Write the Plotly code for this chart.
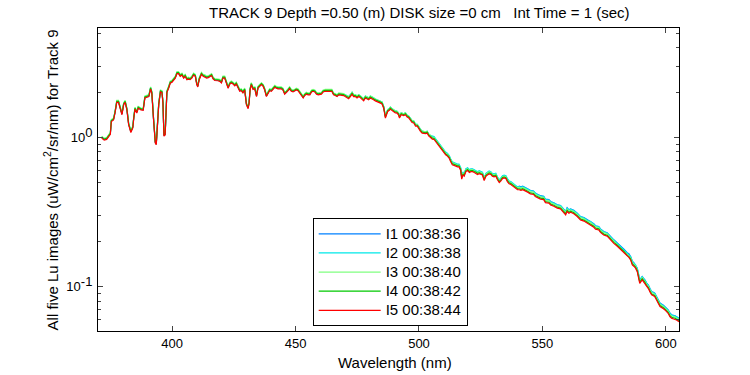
import plotly.graph_objects as go

wavelength = [
371.5, 372.5, 373.5, 374.5, 375.0, 375.4, 376.3, 376.9, 377.6, 378.3, 379.0, 379.7, 380.4, 381.0, 381.7, 382.4,
383.3, 384.1, 384.5, 385.0, 385.7, 386.3, 387.4, 388.3, 389.0, 390.0, 390.6, 391.3, 391.8, 392.5, 393.2, 393.6,
394.0, 394.6, 395.3, 395.9, 396.3, 396.7, 397.2, 397.5, 397.9, 398.6, 399.3, 399.9, 400.6, 401.3, 402.0, 402.6,
403.3, 404.0, 404.7, 405.3, 406.0, 406.6, 407.3, 408.0, 408.7, 409.4, 410.0, 410.4, 411.0, 411.9, 412.6, 413.3,
414.0, 414.7, 416.0, 416.6, 417.3, 418.6, 419.3, 420.0, 420.6, 421.3, 422.0, 422.7, 423.4, 424.0, 424.7, 425.4,
426.0, 426.7, 427.4, 428.0, 428.7, 429.4, 430.1, 430.8, 431.2, 431.6, 432.1, 432.8, 433.5, 434.2, 434.8, 435.5,
436.2, 436.9, 437.5, 438.2, 438.9, 439.5, 440.2, 440.9, 441.6, 442.2, 442.9, 444.2, 444.9, 445.6, 446.3, 447.0,
447.6, 448.3, 449.0, 449.7, 450.3, 451.0, 451.7, 452.4, 453.1, 453.7, 454.4, 455.1, 455.8, 456.5, 457.1, 457.8,
458.5, 459.2, 459.9, 460.5, 461.2, 462.0, 464.7, 465.4, 466.1, 466.8, 467.5, 468.1, 468.8, 469.5,
470.1, 470.8, 471.5, 472.2, 472.9, 473.5, 474.2, 474.9, 475.6, 476.2, 476.9, 477.6, 478.3, 478.9, 479.6, 480.3,
481.0, 481.6, 482.3, 483.0, 483.7, 484.4, 485.0, 485.7, 486.4, 486.8, 487.3, 488.0, 488.4, 489.0, 489.7, 490.4,
491.0, 491.7, 492.1, 492.8, 493.8, 494.5, 495.2, 495.9, 496.6, 497.2, 497.9, 498.6, 499.3, 499.9, 500.6, 501.3,
502.0, 502.7, 503.3, 504.0, 504.7,
505.4, 506.1, 506.7, 507.4, 508.1, 508.8, 509.4, 510.1, 510.8, 511.5, 512.2, 512.8, 513.5, 514.2, 514.9, 515.6,
516.2, 516.9, 517.3, 517.8, 518.3, 519.0, 519.7, 520.4, 521.0, 521.7, 522.4, 523.0, 523.7, 524.4, 525.0, 525.7,
526.4, 527.1, 527.7, 528.4, 529.1, 529.7, 530.4, 531.1, 531.8, 532.5, 533.1, 533.8, 534.5, 535.2, 535.8, 536.5,
537.2, 537.9, 538.6, 539.2, 539.9,
540.6, 541.3, 542.0, 542.6, 543.3, 544.0, 545.1, 546.4, 547.1, 547.8, 549.2, 550.5, 551.2, 552.6, 553.3, 554.6,
556.0, 557.3, 558.7, 559.4, 560.0, 560.7, 561.4, 562.7, 564.1, 565.4, 566.8, 568.1, 569.5, 570.8, 571.5, 572.8,
573.5, 574.8, 576.2, 577.5, 578.9, 580.2, 581.6, 583.0, 584.3, 585.0, 585.7, 586.4, 587.0, 587.7, 588.4, 589.0,
589.4, 589.9, 590.4, 590.9, 591.5, 592.2, 592.9, 593.5, 594.2, 594.9, 595.5, 596.2, 596.9, 597.6, 599.0, 599.6,
600.9, 601.6, 602.3, 603.7, 604.3, 605.3]

I1 = [
1.000, 0.970, 0.980, 1.040, 1.061, 1.293, 1.323, 1.475, 1.737, 1.737, 1.545, 1.434, 1.677, 1.737, 1.545, 1.232,
1.091, 1.172, 1.364, 1.566, 1.475, 1.586, 1.545, 1.535, 1.858, 1.889, 1.899, 2.141, 2.000, 1.323, 0.926, 0.902,
1.141, 1.677, 2.040, 2.020, 1.717, 1.030, 1.050, 1.636, 2.020, 2.161, 2.343, 2.363, 2.434, 2.525, 2.707, 2.707,
2.596, 2.646, 2.525, 2.596, 2.464, 2.485, 2.464, 2.525, 2.646, 2.596, 2.283, 2.202, 2.464, 2.677, 2.596, 2.576,
2.525, 2.545, 2.626, 2.495, 2.434, 2.424, 2.404, 2.343, 2.525, 2.525, 2.363, 2.161, 2.303, 2.343, 2.303, 2.242,
2.303, 2.161, 2.060, 2.081, 2.010, 2.101, 1.677, 1.576, 1.717, 2.101, 2.283, 2.121, 2.141, 1.899, 2.161, 2.222,
2.283, 2.222, 2.101, 1.899, 2.010, 2.081, 2.060, 2.141, 2.192, 2.161, 2.141, 2.141, 2.101, 1.970, 2.010, 2.081,
2.141, 2.060, 2.040, 2.060, 2.101, 2.081, 2.010, 1.929, 1.858, 1.929, 1.970, 1.949, 1.949, 2.040, 2.060, 2.040,
1.970, 1.949, 1.970, 1.970, 2.040, 2.060, 2.060, 1.949, 1.929, 1.899, 1.949, 1.949, 1.929, 1.929,
1.927, 1.886, 1.866, 1.927, 1.999, 1.927, 1.927, 1.886, 1.927, 1.896, 1.835, 1.804, 1.886, 1.866, 1.835, 1.886,
1.866, 1.835, 1.804, 1.784, 1.784, 1.743, 1.722, 1.609, 1.384, 1.456, 1.527, 1.558, 1.589, 1.558, 1.527, 1.497,
1.497, 1.456, 1.384, 1.456, 1.435, 1.456, 1.404, 1.384, 1.333, 1.292, 1.281, 1.220, 1.220, 1.169, 1.128, 1.097,
1.087, 1.087, 1.097, 1.046, 1.025,
1.009, 1.004, 0.973, 0.940, 0.900, 0.865, 0.849, 0.818, 0.792, 0.776, 0.752, 0.714, 0.679, 0.673, 0.662, 0.657,
0.657, 0.621, 0.544, 0.582, 0.569, 0.612, 0.621, 0.602, 0.611, 0.611, 0.602, 0.597, 0.585, 0.592, 0.585, 0.580,
0.533, 0.569, 0.580, 0.590, 0.585, 0.569, 0.564, 0.569, 0.538, 0.516, 0.528, 0.549, 0.554, 0.549, 0.524, 0.506,
0.501, 0.491, 0.486, 0.473, 0.462,
0.471, 0.466, 0.471, 0.466, 0.458, 0.454, 0.442, 0.438, 0.424, 0.418, 0.407, 0.404, 0.386, 0.383, 0.372, 0.365,
0.354, 0.350, 0.331, 0.320, 0.338, 0.327, 0.332, 0.325, 0.311, 0.295, 0.290, 0.281, 0.274, 0.264, 0.256, 0.253,
0.244, 0.234, 0.230, 0.217, 0.206, 0.197, 0.188, 0.178, 0.169, 0.166, 0.159, 0.148, 0.145, 0.140, 0.133, 0.120,
0.111, 0.114, 0.117, 0.114, 0.111, 0.1055, 0.1023, 0.0976, 0.0928, 0.0918, 0.0904, 0.0859, 0.0818, 0.0775, 0.0749, 0.0736,
0.0699, 0.0665, 0.0648, 0.0638, 0.0630, 0.0614]

I2 = [
1.010, 0.979, 0.989, 1.051, 1.071, 1.306, 1.336, 1.489, 1.754, 1.754, 1.561, 1.448, 1.693, 1.754, 1.561, 1.244,
1.102, 1.183, 1.377, 1.581, 1.489, 1.601, 1.561, 1.550, 1.877, 1.907, 1.918, 2.162, 2.020, 1.336, 0.935, 0.911,
1.153, 1.693, 2.060, 2.040, 1.734, 1.040, 1.061, 1.652, 2.040, 2.183, 2.366, 2.387, 2.458, 2.550, 2.734, 2.734,
2.621, 2.672, 2.550, 2.621, 2.489, 2.509, 2.489, 2.550, 2.672, 2.621, 2.305, 2.224, 2.489, 2.703, 2.621, 2.601,
2.550, 2.570, 2.652, 2.519, 2.458, 2.448, 2.428, 2.366, 2.550, 2.550, 2.387, 2.183, 2.326, 2.366, 2.326, 2.264,
2.326, 2.183, 2.081, 2.101, 2.030, 2.122, 1.693, 1.591, 1.734, 2.122, 2.305, 2.142, 2.162, 1.918, 2.183, 2.244,
2.305, 2.244, 2.122, 1.918, 2.030, 2.101, 2.081, 2.162, 2.213, 2.183, 2.162, 2.162, 2.122, 1.989, 2.030, 2.101,
2.162, 2.081, 2.060, 2.081, 2.122, 2.101, 2.030, 1.948, 1.877, 1.948, 1.989, 1.969, 1.969, 2.060, 2.081, 2.060,
1.989, 1.969, 1.989, 1.989, 2.060, 2.081, 2.081, 1.969, 1.948, 1.918, 1.969, 1.969, 1.948, 1.948,
1.936, 1.895, 1.875, 1.936, 2.009, 1.936, 1.936, 1.895, 1.936, 1.906, 1.844, 1.813, 1.895, 1.875, 1.844, 1.895,
1.875, 1.844, 1.813, 1.792, 1.792, 1.751, 1.730, 1.617, 1.391, 1.463, 1.535, 1.566, 1.597, 1.566, 1.535, 1.504,
1.504, 1.463, 1.391, 1.463, 1.442, 1.463, 1.411, 1.391, 1.339, 1.298, 1.288, 1.226, 1.226, 1.174, 1.133, 1.102,
1.092, 1.092, 1.102, 1.051, 1.030,
1.019, 1.014, 0.982, 0.949, 0.909, 0.874, 0.857, 0.826, 0.799, 0.784, 0.760, 0.721, 0.686, 0.679, 0.669, 0.664,
0.664, 0.627, 0.550, 0.587, 0.575, 0.618, 0.627, 0.608, 0.617, 0.617, 0.608, 0.603, 0.590, 0.598, 0.590, 0.585,
0.538, 0.575, 0.585, 0.596, 0.590, 0.575, 0.570, 0.575, 0.543, 0.521, 0.533, 0.554, 0.559, 0.554, 0.529, 0.511,
0.506, 0.495, 0.491, 0.478, 0.466,
0.468, 0.464, 0.468, 0.464, 0.456, 0.452, 0.440, 0.436, 0.422, 0.416, 0.405, 0.402, 0.384, 0.381, 0.371, 0.363,
0.353, 0.349, 0.330, 0.318, 0.336, 0.326, 0.331, 0.323, 0.310, 0.294, 0.289, 0.279, 0.273, 0.263, 0.255, 0.252,
0.243, 0.233, 0.229, 0.216, 0.205, 0.196, 0.187, 0.177, 0.168, 0.165, 0.159, 0.147, 0.144, 0.140, 0.132, 0.120,
0.110, 0.113, 0.117, 0.113, 0.110, 0.1050, 0.1019, 0.0971, 0.0924, 0.0914, 0.0900, 0.0855, 0.0814, 0.0772, 0.0746, 0.0733,
0.0696, 0.0662, 0.0645, 0.0635, 0.0627, 0.0611]

I3 = [
1.020, 0.989, 0.999, 1.061, 1.082, 1.318, 1.349, 1.504, 1.772, 1.772, 1.576, 1.463, 1.710, 1.772, 1.576, 1.257,
1.112, 1.195, 1.391, 1.597, 1.504, 1.617, 1.576, 1.566, 1.895, 1.926, 1.936, 2.184, 2.039, 1.349, 0.945, 0.920,
1.164, 1.710, 2.081, 2.060, 1.751, 1.051, 1.071, 1.669, 2.060, 2.204, 2.390, 2.410, 2.482, 2.575, 2.760, 2.760,
2.647, 2.699, 2.575, 2.647, 2.513, 2.534, 2.513, 2.575, 2.699, 2.647, 2.328, 2.245, 2.513, 2.730, 2.647, 2.627,
2.575, 2.596, 2.678, 2.544, 2.482, 2.472, 2.451, 2.390, 2.575, 2.575, 2.410, 2.204, 2.348, 2.390, 2.348, 2.287,
2.348, 2.204, 2.101, 2.122, 2.050, 2.142, 1.710, 1.607, 1.751, 2.142, 2.328, 2.163, 2.184, 1.936, 2.204, 2.266,
2.328, 2.266, 2.142, 1.936, 2.050, 2.122, 2.101, 2.184, 2.235, 2.204, 2.184, 2.184, 2.142, 2.009, 2.050, 2.122,
2.184, 2.101, 2.081, 2.101, 2.142, 2.122, 2.050, 1.967, 1.895, 1.967, 2.009, 1.988, 1.988, 2.081, 2.101, 2.081,
2.009, 1.988, 2.009, 2.009, 2.081, 2.101, 2.101, 1.988, 1.967, 1.936, 1.988, 1.988, 1.967, 1.967,
1.936, 1.895, 1.875, 1.936, 2.009, 1.936, 1.936, 1.895, 1.936, 1.906, 1.844, 1.813, 1.895, 1.875, 1.844, 1.895,
1.875, 1.844, 1.813, 1.792, 1.792, 1.751, 1.730, 1.617, 1.391, 1.463, 1.535, 1.566, 1.597, 1.566, 1.535, 1.504,
1.504, 1.463, 1.391, 1.463, 1.442, 1.463, 1.411, 1.391, 1.339, 1.298, 1.288, 1.226, 1.226, 1.174, 1.133, 1.102,
1.092, 1.092, 1.102, 1.051, 1.030,
1.004, 0.999, 0.968, 0.935, 0.896, 0.861, 0.845, 0.814, 0.788, 0.773, 0.749, 0.711, 0.676, 0.670, 0.659, 0.654,
0.654, 0.618, 0.542, 0.579, 0.567, 0.609, 0.618, 0.599, 0.608, 0.608, 0.599, 0.594, 0.582, 0.589, 0.582, 0.577,
0.530, 0.567, 0.577, 0.587, 0.582, 0.567, 0.561, 0.567, 0.536, 0.514, 0.525, 0.546, 0.551, 0.546, 0.521, 0.504,
0.499, 0.488, 0.484, 0.471, 0.459,
0.462, 0.457, 0.462, 0.457, 0.449, 0.445, 0.434, 0.430, 0.416, 0.410, 0.400, 0.396, 0.379, 0.376, 0.365, 0.358,
0.348, 0.344, 0.325, 0.314, 0.331, 0.321, 0.326, 0.319, 0.305, 0.290, 0.285, 0.275, 0.269, 0.259, 0.252, 0.248,
0.239, 0.230, 0.226, 0.213, 0.202, 0.194, 0.184, 0.175, 0.166, 0.162, 0.156, 0.145, 0.142, 0.138, 0.130, 0.118,
0.109, 0.112, 0.115, 0.112, 0.109, 0.1035, 0.1004, 0.0957, 0.0911, 0.0900, 0.0887, 0.0842, 0.0802, 0.0761, 0.0735, 0.0722,
0.0686, 0.0652, 0.0635, 0.0626, 0.0618, 0.0602]

I4 = [
1.005, 0.974, 0.985, 1.045, 1.066, 1.299, 1.330, 1.482, 1.746, 1.746, 1.553, 1.441, 1.685, 1.746, 1.553, 1.238,
1.096, 1.177, 1.370, 1.573, 1.482, 1.594, 1.553, 1.543, 1.868, 1.898, 1.908, 2.152, 2.010, 1.330, 0.931, 0.906,
1.147, 1.685, 2.050, 2.030, 1.726, 1.035, 1.056, 1.644, 2.030, 2.172, 2.355, 2.375, 2.446, 2.538, 2.720, 2.720,
2.609, 2.659, 2.538, 2.609, 2.477, 2.497, 2.477, 2.538, 2.659, 2.609, 2.294, 2.213, 2.477, 2.690, 2.609, 2.588,
2.538, 2.558, 2.639, 2.507, 2.446, 2.436, 2.416, 2.355, 2.538, 2.538, 2.375, 2.172, 2.314, 2.355, 2.314, 2.253,
2.314, 2.172, 2.071, 2.091, 2.020, 2.111, 1.685, 1.583, 1.726, 2.111, 2.294, 2.132, 2.152, 1.908, 2.172, 2.233,
2.294, 2.233, 2.111, 1.908, 2.020, 2.091, 2.071, 2.152, 2.203, 2.172, 2.152, 2.152, 2.111, 1.979, 2.020, 2.091,
2.152, 2.071, 2.050, 2.071, 2.111, 2.091, 2.020, 1.939, 1.868, 1.939, 1.979, 1.959, 1.959, 2.050, 2.071, 2.050,
1.979, 1.959, 1.979, 1.979, 2.050, 2.071, 2.071, 1.959, 1.939, 1.908, 1.959, 1.959, 1.939, 1.939,
1.908, 1.868, 1.847, 1.908, 1.979, 1.908, 1.908, 1.868, 1.908, 1.878, 1.817, 1.786, 1.868, 1.847, 1.817, 1.868,
1.847, 1.817, 1.786, 1.766, 1.766, 1.726, 1.705, 1.594, 1.370, 1.441, 1.512, 1.543, 1.573, 1.543, 1.512, 1.482,
1.482, 1.441, 1.370, 1.441, 1.421, 1.441, 1.391, 1.370, 1.320, 1.279, 1.269, 1.208, 1.208, 1.157, 1.117, 1.086,
1.076, 1.076, 1.086, 1.035, 1.015,
0.990, 0.985, 0.954, 0.922, 0.883, 0.849, 0.832, 0.802, 0.776, 0.761, 0.738, 0.700, 0.666, 0.660, 0.650, 0.645,
0.645, 0.609, 0.534, 0.570, 0.558, 0.600, 0.609, 0.591, 0.599, 0.599, 0.591, 0.586, 0.573, 0.581, 0.573, 0.568,
0.523, 0.558, 0.568, 0.579, 0.573, 0.558, 0.553, 0.558, 0.528, 0.506, 0.518, 0.538, 0.543, 0.538, 0.514, 0.496,
0.491, 0.481, 0.477, 0.464, 0.453,
0.453, 0.449, 0.453, 0.449, 0.441, 0.436, 0.425, 0.421, 0.408, 0.402, 0.392, 0.389, 0.371, 0.368, 0.358, 0.351,
0.341, 0.337, 0.319, 0.308, 0.325, 0.315, 0.320, 0.313, 0.299, 0.284, 0.279, 0.270, 0.264, 0.254, 0.247, 0.244,
0.234, 0.225, 0.221, 0.209, 0.198, 0.190, 0.181, 0.172, 0.162, 0.159, 0.153, 0.142, 0.139, 0.135, 0.128, 0.116,
0.107, 0.110, 0.113, 0.110, 0.107, 0.1015, 0.0985, 0.0939, 0.0893, 0.0883, 0.0870, 0.0826, 0.0787, 0.0746, 0.0721, 0.0708,
0.0673, 0.0639, 0.0623, 0.0614, 0.0606, 0.0591]

I5 = [
0.99, 0.96, 0.97, 1.03, 1.05, 1.28, 1.31, 1.46, 1.72, 1.72, 1.53, 1.42, 1.66, 1.72, 1.53, 1.22,
1.08, 1.16, 1.35, 1.55, 1.46, 1.57, 1.53, 1.52, 1.84, 1.87, 1.88, 2.12, 1.98, 1.31, 0.917, 0.893,
1.13, 1.66, 2.02, 2.00, 1.70, 1.02, 1.04, 1.62, 2.00, 2.14, 2.32, 2.34, 2.41, 2.50, 2.68, 2.68,
2.57, 2.62, 2.50, 2.57, 2.44, 2.46, 2.44, 2.50, 2.62, 2.57, 2.26, 2.18, 2.44, 2.65, 2.57, 2.55,
2.50, 2.52, 2.60, 2.47, 2.41, 2.40, 2.38, 2.32, 2.50, 2.50, 2.34, 2.14, 2.28, 2.32, 2.28, 2.22,
2.28, 2.14, 2.04, 2.06, 1.99, 2.08, 1.66, 1.56, 1.70, 2.08, 2.26, 2.10, 2.12, 1.88, 2.14, 2.20,
2.26, 2.20, 2.08, 1.88, 1.99, 2.06, 2.04, 2.12, 2.17, 2.14, 2.12, 2.12, 2.08, 1.95, 1.99, 2.06,
2.12, 2.04, 2.02, 2.04, 2.08, 2.06, 1.99, 1.91, 1.84, 1.91, 1.95, 1.93, 1.93, 2.02, 2.04, 2.02,
1.95, 1.93, 1.95, 1.95, 2.02, 2.04, 2.04, 1.93, 1.91, 1.88, 1.93, 1.93, 1.91, 1.91,
1.88, 1.84, 1.82, 1.88, 1.95, 1.88, 1.88, 1.84, 1.88, 1.85, 1.79, 1.76, 1.84, 1.82, 1.79, 1.84,
1.82, 1.79, 1.76, 1.74, 1.74, 1.70, 1.68, 1.57, 1.35, 1.42, 1.49, 1.52, 1.55, 1.52, 1.49, 1.46,
1.46, 1.42, 1.35, 1.42, 1.40, 1.42, 1.37, 1.35, 1.30, 1.26, 1.25, 1.19, 1.19, 1.14, 1.10, 1.07,
1.06, 1.06, 1.07, 1.02, 1.00,
0.975, 0.97, 0.94, 0.908, 0.87, 0.836, 0.82, 0.79, 0.765, 0.75, 0.727, 0.69, 0.656, 0.65, 0.64, 0.635,
0.635, 0.60, 0.526, 0.562, 0.55, 0.591, 0.60, 0.582, 0.59, 0.59, 0.582, 0.577, 0.565, 0.572, 0.565, 0.56,
0.515, 0.55, 0.56, 0.57, 0.565, 0.55, 0.545, 0.55, 0.52, 0.499, 0.51, 0.53, 0.535, 0.53, 0.506, 0.489,
0.484, 0.474, 0.47, 0.457, 0.446,
0.446, 0.442, 0.446, 0.442, 0.434, 0.43, 0.419, 0.415, 0.402, 0.396, 0.386, 0.383, 0.366, 0.363, 0.353, 0.346,
0.336, 0.332, 0.314, 0.303, 0.32, 0.31, 0.315, 0.308, 0.295, 0.28, 0.275, 0.266, 0.26, 0.25, 0.243, 0.24,
0.231, 0.222, 0.218, 0.206, 0.195, 0.187, 0.178, 0.169, 0.160, 0.157, 0.151, 0.140, 0.137, 0.133, 0.126, 0.114,
0.105, 0.108, 0.111, 0.108, 0.105, 0.100, 0.097, 0.0925, 0.088, 0.087, 0.0857, 0.0814, 0.0775, 0.0735, 0.071, 0.0698,
0.0663, 0.063, 0.0614, 0.0605, 0.0597, 0.0582]

series_names = ["I1 00:38:36", "I2 00:38:38", "I3 00:38:40", "I4 00:38:42", "I5 00:38:44"]
series_values = [I1, I2, I3, I4, I5]
series_colors = ["#0080ff", "#00e8e8", "#80ff80", "#00c800", "#ff0000"]

x_ticks = [400, 450, 500, 550, 600]
y_major = [0.1, 1]
y_major_text = ["10<sup><span style='font-size:13px'>-1</span></sup>",
                "10<sup><span style='font-size:13px'>0</span></sup>"]
y_minor = [0.06, 0.07, 0.08, 0.09, 0.2, 0.3, 0.4, 0.5, 0.6, 0.7, 0.8, 0.9, 2, 3, 4, 5]

title_text = "TRACK 9 Depth =0.50 (m) DISK size =0 cm   Int Time = 1 (sec)"
x_title = "Wavelength (nm)"
y_title = "All five Lu images (uW/cm<sup>2</sup>/sr/nm) for Track 9"

FONT = "Arial, Liberation Sans, Helvetica, sans-serif"

fig = go.Figure()
for name, vals, col in zip(series_names, series_values, series_colors):
    fig.add_trace(go.Scatter(x=wavelength, y=vals, mode="lines",
                             name="<span style='font-size:15px'>" + name + "</span>",
                             line=dict(color=col, width=1.2)))

# invisible trace carrying the minor ticks on an overlaid log axis
fig.add_trace(go.Scatter(x=[wavelength[0]], y=[I5[0]], mode="markers", yaxis="y2",
                         marker=dict(opacity=0), showlegend=False, hoverinfo="skip"))

L, R, T, B = 98, 71, 28, 44
fig.update_layout(
    width=750, height=375,
    margin=dict(l=L, r=R, t=T, b=B, autoexpand=False),
    paper_bgcolor="white", plot_bgcolor="white",
    font=dict(family=FONT, size=13, color="black"),
    showlegend=True,
    legend=dict(x=0.3695, y=0.372, xanchor="left", yanchor="top",
                bgcolor="white", bordercolor="black", borderwidth=1,
                font=dict(size=12.4, family=FONT), itemwidth=62,
                tracegroupgap=0),
    xaxis=dict(range=[370, 605.3], tickvals=x_ticks, ticks="inside", ticklen=5,
               showline=True, linecolor="black", linewidth=1, mirror="ticks",
               showgrid=False, zeroline=False, tickfont=dict(size=13)),
    yaxis=dict(type="log", range=[-1.2976, 0.734], tickvals=y_major, ticktext=y_major_text,
               ticks="inside", ticklen=5, showline=True, linecolor="black", linewidth=1,
               mirror="ticks", showgrid=False, zeroline=False, tickfont=dict(size=13),
               ticklabelstandoff=2),
    yaxis2=dict(type="log", range=[-1.2976, 0.734], overlaying="y", side="left",
                tickvals=y_minor, ticks="inside", ticklen=3, showticklabels=False,
                showline=False, mirror="ticks", showgrid=False, zeroline=False),
    annotations=[
        dict(text=title_text, xref="paper", yref="paper", x=0.5525, y=1.0528,
             xanchor="center", yanchor="middle", showarrow=False, font=dict(size=15)),
        dict(text=x_title, xref="paper", yref="paper", x=0.511, y=-0.1056,
             xanchor="center", yanchor="middle", showarrow=False, font=dict(size=15)),
        dict(text=y_title, xref="paper", yref="paper", x=-0.081, y=0.5,
             xanchor="center", yanchor="middle", textangle=-90, showarrow=False,
             font=dict(size=15)),
    ],
)

fig.write_html("out.html", config={"displayModeBar": False},
               post_script="document.body.style.margin='0px';")
